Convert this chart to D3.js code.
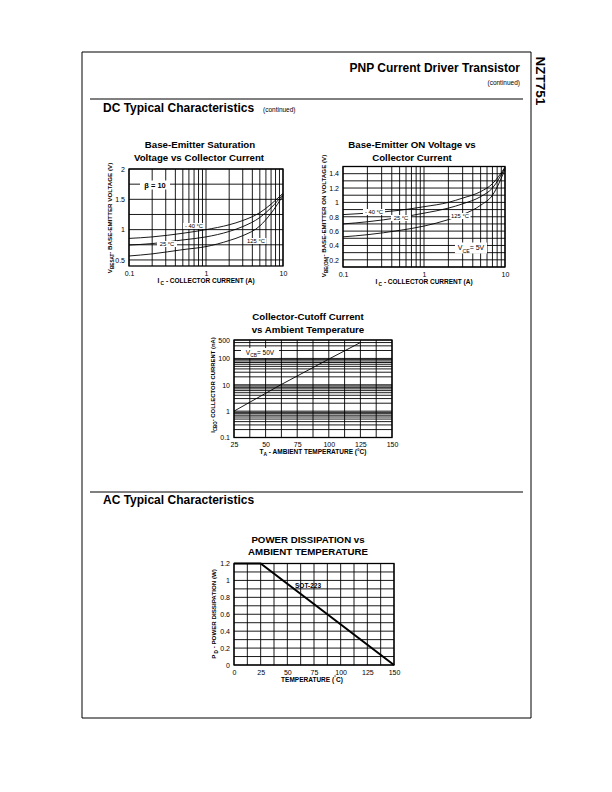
<!DOCTYPE html>
<html><head><meta charset="utf-8">
<script src="https://cdn.jsdelivr.net/npm/d3@7"></script>
<style>body{margin:0;background:#fff}svg{display:block}</style>
</head><body><svg id="c" width="612" height="792"></svg>
<script>
// ---------------- DATA ----------------
// Chart 1: Base-Emitter Saturation Voltage vs Collector Current (beta = 10)
const satCurrent = [0.1, 0.2, 0.5, 1, 2, 3, 5, 7, 10];
const satM40 = [0.855, 0.88, 0.94, 1.0, 1.08, 1.15, 1.28, 1.42, 1.60];
const sat25  = [0.745, 0.77, 0.83, 0.88, 0.97, 1.05, 1.20, 1.36, 1.58];
const sat125 = [0.565, 0.60, 0.67, 0.72, 0.82, 0.90, 1.06, 1.27, 1.56];
const satYTicks = [0.5, 1, 1.5, 2];
const currentTicks = [0.1, 1, 10];

// Chart 2: Base-Emitter ON Voltage vs Collector Current (VCE = 5V)
const onCurrent = [0.1, 0.2, 0.5, 1, 2, 3, 5, 7, 10];
const onM40 = [0.83, 0.85, 0.89, 0.94, 1.00, 1.06, 1.15, 1.26, 1.49];
const on25  = [0.70, 0.73, 0.79, 0.85, 0.92, 0.98, 1.08, 1.20, 1.48];
const on125 = [0.52, 0.55, 0.61, 0.67, 0.76, 0.83, 0.96, 1.10, 1.46];
const onYTicks = [0.2, 0.4, 0.6, 0.8, 1, 1.2, 1.4];

// Chart 3: Collector-Cutoff Current vs Ambient Temperature (VCB = 50V)
const cutoffTemp = [25, 62, 101, 125];
const cutoffCurrent = [1, 10, 100, 400];
const cutoffYTicks = [0.1, 1, 10, 100, 500];
const tempTicks3 = [25, 50, 75, 100, 125, 150];

// Chart 4: Power Dissipation vs Ambient Temperature (SOT-223)
const pdTemp = [0, 25, 150];
const pdPower = [1.2, 1.2, 0];
const pdYTicks = [0, 0.2, 0.4, 0.6, 0.8, 1, 1.2];
const tempTicks4 = [0, 25, 50, 75, 100, 125, 150];

// ---------------- DRAWING ----------------
const FONT = "'Liberation Sans', Arial, Helvetica, sans-serif";
const svg = d3.select("#c");
svg.append("rect").attr("width", 612).attr("height", 792).attr("fill", "#fff");

function text(x, y, s, o = {}) {
  return svg.append("text").attr("x", x).attr("y", y).text(s)
    .attr("font-family", FONT).attr("font-size", o.size || 7)
    .attr("font-weight", o.bold ? "bold" : "normal")
    .attr("text-anchor", o.anchor || "start").attr("fill", "#000");
}
function line(x1, y1, x2, y2, w) {
  svg.append("line").attr("x1", x1).attr("y1", y1).attr("x2", x2).attr("y2", y2)
    .attr("stroke", "#000").attr("stroke-width", w || 1);
}
// text built of pieces: [str, isSub, isSup]
function rich(x, y, parts, o = {}) {
  const size = o.size || 6.5;
  const t = svg.append("text").attr("font-family", FONT).attr("font-size", size)
    .attr("font-weight", o.bold === false ? "normal" : "bold").attr("text-anchor", o.anchor || "middle")
    .attr("fill", "#000");
  if (o.rotate) t.attr("transform", `translate(${x},${y}) rotate(-90)`);
  else t.attr("x", x).attr("y", y);
  let shift = 0;
  parts.forEach(p => {
    const target = p[1] ? size * 0.3 : (p[2] ? -size * 0.4 : 0);
    const ts = t.append("tspan").text(p[0]).attr("dy", target - shift);
    if (p[1] || p[2]) ts.attr("font-size", size * 0.75);
    shift = target;
  });
  return t;
}
function logGrid(lo, hi) {
  const v = [];
  for (let d = -2; d <= 3; d++) for (let m = 1; m < 10; m++) {
    const val = +(m * Math.pow(10, d)).toPrecision(3);
    if (val >= lo * 0.999 && val <= hi * 1.001) v.push(val);
  }
  return v;
}
function stepGrid(lo, hi, step) {
  const v = []; const n = Math.round((hi - lo) / step);
  for (let i = 0; i <= n; i++) v.push(lo + i * step);
  return v;
}
function plotFrame(x, y, xg, yg) {
  const g = svg.append("g");
  const [x0, x1] = x.range(), [y0, y1] = y.range();
  xg.forEach(v => g.append("line").attr("x1", x(v)).attr("x2", x(v)).attr("y1", y0).attr("y2", y1)
    .attr("stroke", "#000").attr("stroke-width", 0.9));
  yg.forEach(v => g.append("line").attr("x1", x0).attr("x2", x1).attr("y1", y(v)).attr("y2", y(v))
    .attr("stroke", "#000").attr("stroke-width", 0.9));
  g.append("rect").attr("x", x0).attr("y", y1).attr("width", x1 - x0).attr("height", y0 - y1)
    .attr("fill", "none").attr("stroke", "#000").attr("stroke-width", 1.3);
}
function axes(x, y, xt, yt, xfmt, yfmt) {
  const gx = svg.append("g").attr("transform", `translate(0,${y.range()[0]})`)
    .call(d3.axisBottom(x).tickValues(xt).tickSize(0).tickPadding(5).tickFormat(xfmt));
  const gy = svg.append("g").attr("transform", `translate(${x.range()[0]},0)`)
    .call(d3.axisLeft(y).tickValues(yt).tickSize(0).tickPadding(4).tickFormat(yfmt));
  [gx, gy].forEach(g => {
    g.select(".domain").remove();
    g.selectAll("text").attr("font-family", FONT).attr("font-size", 7).attr("fill", "#000");
  });
}
function curve(x, y, xs, ys, w) {
  svg.append("path").datum(xs.map((v, i) => [v, ys[i]]))
    .attr("d", d3.line().x(d => x(d[0])).y(d => y(d[1])).curve(d3.curveMonotoneX))
    .attr("fill", "none").attr("stroke", "#000").attr("stroke-width", w || 0.9);
}
function boxLabel(cx, cy, w, h, parts, size, bold) {
  svg.append("rect").attr("x", cx - w / 2).attr("y", cy - h / 2).attr("width", w).attr("height", h).attr("fill", "#fff");
  rich(cx, cy + size * 0.35, parts, { size: size, bold: !!bold });
}
const fmtPlain = d => String(d);

// ---- Page frame & headers ----
line(82, 52, 531, 52, 1);
line(82, 52, 82, 718, 1);
line(531, 52, 531, 718, 1);
line(82, 718, 531, 718, 1);
line(90, 99, 523, 99, 1);
line(90, 492, 523, 492, 1);
text(520, 72, "PNP Current Driver Transistor", { size: 12, bold: true, anchor: "end" });
text(520, 85, "(continued)", { size: 6.5, anchor: "end" });
svg.append("text").attr("transform", "translate(536,81) rotate(90)").attr("text-anchor", "middle")
  .attr("font-family", FONT).attr("font-size", 13.5).attr("font-weight", "bold").text("NZT751");
text(103, 112, "DC Typical Characteristics", { size: 12, bold: true });
text(263, 112, "(continued)", { size: 6.5 });
text(103, 504, "AC Typical Characteristics", { size: 12, bold: true });

// ---- Chart 1 ----
{
  const x = d3.scaleLog().domain([0.1, 10]).range([129, 283]);
  const y = d3.scaleLinear().domain([0.4, 2]).range([266, 169]);
  text(200, 148, "Base-Emitter Saturation", { size: 9.7, bold: true, anchor: "middle" });
  text(199, 161, "Voltage vs Collector Current", { size: 9.7, bold: true, anchor: "middle" });
  plotFrame(x, y, logGrid(0.1, 10), stepGrid(0.5, 2, 0.25));
  axes(x, y, currentTicks, satYTicks, fmtPlain, fmtPlain);
  curve(x, y, satCurrent, satM40);
  curve(x, y, satCurrent, sat25);
  curve(x, y, satCurrent, sat125);
  boxLabel(155, 185, 30, 9, [["β", 0, 0], [" = 10", 0, 0]], 7.5, true);
  boxLabel(194, 226, 22, 6, [["- 40 °C", 0, 0]], 5.8);
  boxLabel(167, 244, 20, 6, [["25 °C", 0, 0]], 5.8);
  boxLabel(256, 241, 21, 6, [["125 °C", 0, 0]], 5.8);
  rich(206, 283, [["I", 0, 0], [" C", 1, 0], [" - COLLECTOR CURRENT  (A)", 0, 0]], { size: 6.5 });
  rich(112, 218, [["V", 0, 0], ["BESAT", 1, 0], ["- BASE-EMITTER VOLTAGE (V)", 0, 0]], { size: 6.2, rotate: true });
}

// ---- Chart 2 ----
{
  const x = d3.scaleLog().domain([0.1, 10]).range([343, 505]);
  const y = d3.scaleLinear().domain([0.1, 1.5]).range([267, 166.5]);
  text(412, 148, "Base-Emitter ON Voltage vs", { size: 9.7, bold: true, anchor: "middle" });
  text(412, 161, "Collector Current", { size: 9.7, bold: true, anchor: "middle" });
  plotFrame(x, y, logGrid(0.1, 10), stepGrid(0.1, 1.5, 0.1));
  axes(x, y, currentTicks, onYTicks, fmtPlain, fmtPlain);
  curve(x, y, onCurrent, onM40);
  curve(x, y, onCurrent, on25);
  curve(x, y, onCurrent, on125);
  boxLabel(374, 212, 22, 6, [["- 40 °C", 0, 0]], 5.8);
  boxLabel(401, 218, 20, 6, [["25 °C", 0, 0]], 5.8);
  boxLabel(460, 216, 21, 6, [["125 °C", 0, 0]], 5.8);
  boxLabel(471, 248, 32, 11, [["V", 0, 0], ["CE", 1, 0], ["= 5V", 0, 0]], 7);
  rich(424, 284, [["I", 0, 0], [" C", 1, 0], [" - COLLECTOR CURRENT  (A)", 0, 0]], { size: 6.5 });
  rich(326, 216, [["V", 0, 0], ["BE(ON)", 1, 0], ["- BASE-EMITTER ON VOLTAGE (V)", 0, 0]], { size: 6.2, rotate: true });
}

// ---- Chart 3 ----
{
  const x = d3.scaleLinear().domain([25, 150]).range([234, 392]);
  const y = d3.scaleLog().domain([0.1, 500]).range([437.5, 340]);
  text(308, 320, "Collector-Cutoff Current", { size: 9.7, bold: true, anchor: "middle" });
  text(308, 333, "vs Ambient Temperature", { size: 9.7, bold: true, anchor: "middle" });
  plotFrame(x, y, stepGrid(25, 150, 12.5), logGrid(0.1, 500));
  axes(x, y, tempTicks3, cutoffYTicks, fmtPlain, fmtPlain);
  svg.append("path").datum(cutoffTemp.map((v, i) => [v, cutoffCurrent[i]]))
    .attr("d", d3.line().x(d => x(d[0])).y(d => y(d[1])))
    .attr("fill", "none").attr("stroke", "#000").attr("stroke-width", 0.9);
  boxLabel(260, 353, 38, 10, [["V", 0, 0], ["CB", 1, 0], ["= 50V", 0, 0]], 6.5);
  rich(313, 454, [["T", 0, 0], ["A", 1, 0], [" - AMBIENT TEMPERATURE (°C)", 0, 0]], { size: 6.5 });
  rich(215, 385, [["I", 0, 0], ["CBO", 1, 0], ["- COLLECTOR CURRENT (nA)", 0, 0]], { size: 5.9, rotate: true });
}

// ---- Chart 4 ----
{
  const x = d3.scaleLinear().domain([0, 150]).range([234, 394]);
  const y = d3.scaleLinear().domain([0, 1.2]).range([665, 563.5]);
  text(308, 543, "POWER DISSIPATION vs", { size: 9.7, bold: true, anchor: "middle" });
  text(308, 555, "AMBIENT TEMPERATURE", { size: 9.7, bold: true, anchor: "middle" });
  plotFrame(x, y, stepGrid(0, 150, 12.5), stepGrid(0, 1.2, 0.1));
  axes(x, y, tempTicks4, pdYTicks, fmtPlain, fmtPlain);
  svg.append("path").datum(pdTemp.map((v, i) => [v, pdPower[i]]))
    .attr("d", d3.line().x(d => x(d[0])).y(d => y(d[1])))
    .attr("fill", "none").attr("stroke", "#000").attr("stroke-width", 2);
  text(295, 588, "SOT-223", { size: 6.5, bold: true, anchor: "start" });
  rich(312, 682, [["TEMPERATURE  (", 0, 0], ["°", 0, 1], ["C)", 0, 0]], { size: 6.5 });
  rich(216, 614, [["P", 0, 0], [" D", 1, 0], [" - POWER DISSIPATION (W)", 0, 0]], { size: 6.2, rotate: true });
}
</script></body></html>
